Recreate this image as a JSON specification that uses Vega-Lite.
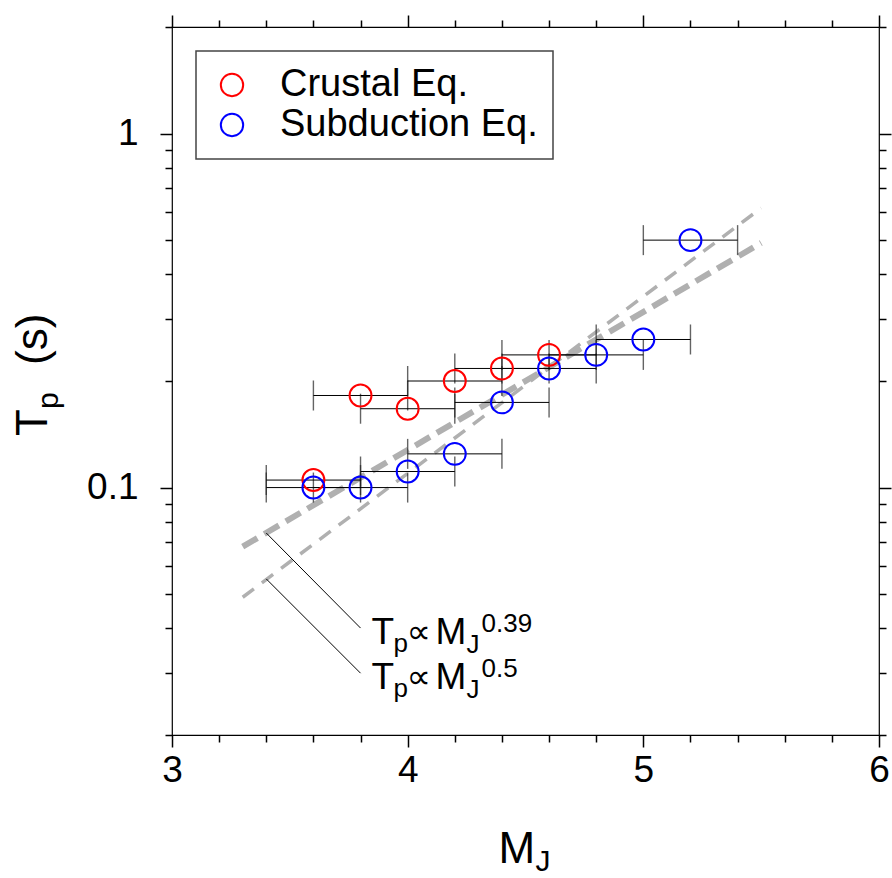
{
  "$schema": "https://vega.github.io/schema/vega-lite/v6.json",
  "width": 707,
  "height": 708,
  "autosize": {"type": "none"},
  "padding": {"left": 172, "top": 27, "right": 13, "bottom": 143},
  "background": "white",
  "config": {
    "view": {"stroke": "black", "strokeWidth": 1.2},
    "font": "Liberation Sans",
    "axis": {
      "domain": false,
      "grid": false,
      "tickColor": "black",
      "tickWidth": 1.5,
      "labelFont": "Liberation Sans",
      "labelFontSize": 37,
      "labelColor": "black",
      "labelFlush": false,
      "labelOverlap": false
    },
    "legend": {"strokeWidth": 1.5},
    "text": {"font": "Liberation Sans", "color": "black", "align": "left", "baseline": "alphabetic"}
  },
  "resolve": {"axis": {"x": "independent", "y": "independent"}},
  "datasets": {
    "pts": [
      {"M": 3.6, "Tp": 0.105, "type": "Crustal Eq.", "dM": 0.2},
      {"M": 3.8, "Tp": 0.182, "type": "Crustal Eq.", "dM": 0.2},
      {"M": 4.0, "Tp": 0.167, "type": "Crustal Eq.", "dM": 0.2},
      {"M": 4.2, "Tp": 0.2, "type": "Crustal Eq.", "dM": 0.2},
      {"M": 4.4, "Tp": 0.217, "type": "Crustal Eq.", "dM": 0.2},
      {"M": 4.6, "Tp": 0.237, "type": "Crustal Eq.", "dM": 0.2},
      {"M": 3.6, "Tp": 0.1, "type": "Subduction Eq.", "dM": 0.2},
      {"M": 3.8, "Tp": 0.1, "type": "Subduction Eq.", "dM": 0.2},
      {"M": 4.0, "Tp": 0.111, "type": "Subduction Eq.", "dM": 0.2},
      {"M": 4.2, "Tp": 0.1245, "type": "Subduction Eq.", "dM": 0.2},
      {"M": 4.4, "Tp": 0.174, "type": "Subduction Eq.", "dM": 0.2},
      {"M": 4.6, "Tp": 0.217, "type": "Subduction Eq.", "dM": 0.2},
      {"M": 4.8, "Tp": 0.237, "type": "Subduction Eq.", "dM": 0.2},
      {"M": 5.0, "Tp": 0.262, "type": "Subduction Eq.", "dM": 0.2},
      {"M": 5.2, "Tp": 0.5, "type": "Subduction Eq.", "dM": 0.2}
    ],
    "fit039": [
      {"M": 3.3, "Tp": 0.0681},
      {"M": 5.5, "Tp": 0.491}
    ],
    "fit050": [
      {"M": 3.3, "Tp": 0.049},
      {"M": 5.5, "Tp": 0.616}
    ],
    "leaders": [
      {"id": "a", "M": 3.4, "Tp": 0.0744},
      {"id": "a", "M": 3.8, "Tp": 0.0401},
      {"id": "b", "M": 3.4, "Tp": 0.0552},
      {"id": "b", "M": 3.8, "Tp": 0.0299}
    ],
    "ann": [
      {"M": 3.8, "Tp": 0.0401, "exp": "0.39"},
      {"M": 3.8, "Tp": 0.0299, "exp": "0.5"}
    ],
    "anchor": [{}]
  },
  "layer": [
    {
      "data": {"name": "fit039"},
      "mark": {"type": "line", "color": "#b0b0b0", "strokeWidth": 6, "strokeDash": [17, 8], "strokeCap": "butt"},
      "encoding": {
        "x": {"field": "M", "type": "quantitative", "scale": {"domain": [3, 6], "nice": false, "zero": false},
          "axis": {"orient": "bottom", "values": [3, 4, 5, 6], "tickSize": 12, "labelPadding": 5, "title": null}},
        "y": {"field": "Tp", "type": "quantitative", "scale": {"type": "log", "domain": [0.02, 2], "nice": false},
          "axis": {"orient": "left", "values": [0.1, 1], "format": "~g", "tickSize": 12, "labelPadding": 22, "title": null}}
      }
    },
    {
      "data": {"name": "fit050"},
      "mark": {"type": "line", "color": "#b0b0b0", "strokeWidth": 3.5, "strokeDash": [14, 10], "strokeCap": "butt"},
      "encoding": {
        "x": {"field": "M", "type": "quantitative", "scale": {"domain": [3, 6], "nice": false, "zero": false},
          "axis": {"orient": "bottom", "values": [3.2, 3.4, 3.6, 3.8, 4.2, 4.4, 4.6, 4.8, 5.2, 5.4, 5.6, 5.8], "tickSize": 7, "labels": false, "title": null}},
        "y": {"field": "Tp", "type": "quantitative", "scale": {"type": "log", "domain": [0.02, 2], "nice": false},
          "axis": {"orient": "left", "values": [0.02, 0.03, 0.04, 0.05, 0.06, 0.07, 0.08, 0.09, 0.2, 0.3, 0.4, 0.5, 0.6, 0.7, 0.8, 0.9, 2], "tickSize": 7, "labels": false, "title": null}}
      }
    },
    {
      "data": {"name": "leaders"},
      "mark": {"type": "line", "color": "black", "strokeWidth": 1},
      "encoding": {
        "x": {"field": "M", "type": "quantitative", "scale": {"domain": [3, 6], "nice": false, "zero": false},
          "axis": {"orient": "top", "values": [3, 4, 5, 6], "tickSize": 12, "labels": false, "title": null}},
        "y": {"field": "Tp", "type": "quantitative", "scale": {"type": "log", "domain": [0.02, 2], "nice": false},
          "axis": {"orient": "right", "values": [0.1, 1], "tickSize": 12, "labels": false, "title": null}},
        "detail": {"field": "id", "type": "nominal"}
      }
    },
    {
      "data": {"name": "pts"},
      "mark": {"type": "errorbar", "ticks": {"size": 30, "thickness": 1.4, "color": "#222222"}, "rule": {"color": "black", "strokeWidth": 1}},
      "encoding": {
        "x": {"field": "M", "type": "quantitative", "scale": {"domain": [3, 6], "nice": false, "zero": false}, "axis": null},
        "xError": {"field": "dM"},
        "y": {"field": "Tp", "type": "quantitative", "scale": {"type": "log", "domain": [0.02, 2], "nice": false}, "axis": null}
      }
    },
    {
      "data": {"name": "pts"},
      "mark": {"type": "point", "filled": false, "size": 480, "strokeWidth": 2, "opacity": 1},
      "encoding": {
        "x": {"field": "M", "type": "quantitative", "scale": {"domain": [3, 6], "nice": false, "zero": false},
          "axis": {"orient": "top", "values": [3.2, 3.4, 3.6, 3.8, 4.2, 4.4, 4.6, 4.8, 5.2, 5.4, 5.6, 5.8], "tickSize": 7, "labels": false, "title": null}},
        "y": {"field": "Tp", "type": "quantitative", "scale": {"type": "log", "domain": [0.02, 2], "nice": false},
          "axis": {"orient": "right", "values": [0.02, 0.03, 0.04, 0.05, 0.06, 0.07, 0.08, 0.09, 0.2, 0.3, 0.4, 0.5, 0.6, 0.7, 0.8, 0.9, 2], "tickSize": 7, "labels": false, "title": null}},
        "color": {
          "field": "type", "type": "nominal",
          "scale": {"domain": ["Crustal Eq.", "Subduction Eq."], "range": ["#ff0000", "#0000ff"]},
          "legend": {
            "title": null, "orient": "none", "legendX": 24, "legendY": 24,
            "strokeColor": "#444444", "fillColor": "white",
            "padding": 15, "rowPadding": 2,
            "labelFont": "Liberation Sans", "labelFontSize": 38, "labelColor": "black", "labelLimit": 0,
            "symbolType": "circle", "symbolSize": 500, "symbolStrokeWidth": 2, "symbolOffset": 2, "labelOffset": 29
          }
        }
      }
    },
    {
      "data": {"name": "ann"},
      "mark": {"type": "text", "fontSize": 37, "dx": 11, "dy": 16},
      "encoding": {
        "x": {"field": "M", "type": "quantitative", "scale": {"domain": [3, 6], "nice": false, "zero": false}, "axis": null},
        "y": {"field": "Tp", "type": "quantitative", "scale": {"type": "log", "domain": [0.02, 2], "nice": false}, "axis": null},
        "text": {"value": "T"}
      }
    },
    {
      "data": {"name": "ann"},
      "mark": {"type": "text", "fontSize": 26, "dx": 33, "dy": 24},
      "encoding": {
        "x": {"field": "M", "type": "quantitative", "scale": {"domain": [3, 6], "nice": false, "zero": false}, "axis": null},
        "y": {"field": "Tp", "type": "quantitative", "scale": {"type": "log", "domain": [0.02, 2], "nice": false}, "axis": null},
        "text": {"value": "p"}
      }
    },
    {
      "data": {"name": "ann"},
      "mark": {"type": "text", "fontSize": 34, "dx": 46, "dy": 15, "font": "DejaVu Sans"},
      "encoding": {
        "x": {"field": "M", "type": "quantitative", "scale": {"domain": [3, 6], "nice": false, "zero": false}, "axis": null},
        "y": {"field": "Tp", "type": "quantitative", "scale": {"type": "log", "domain": [0.02, 2], "nice": false}, "axis": null},
        "text": {"value": "∝"}
      }
    },
    {
      "data": {"name": "ann"},
      "mark": {"type": "text", "fontSize": 37, "dx": 75, "dy": 16},
      "encoding": {
        "x": {"field": "M", "type": "quantitative", "scale": {"domain": [3, 6], "nice": false, "zero": false}, "axis": null},
        "y": {"field": "Tp", "type": "quantitative", "scale": {"type": "log", "domain": [0.02, 2], "nice": false}, "axis": null},
        "text": {"value": "M"}
      }
    },
    {
      "data": {"name": "ann"},
      "mark": {"type": "text", "fontSize": 26, "dx": 106, "dy": 25},
      "encoding": {
        "x": {"field": "M", "type": "quantitative", "scale": {"domain": [3, 6], "nice": false, "zero": false}, "axis": null},
        "y": {"field": "Tp", "type": "quantitative", "scale": {"type": "log", "domain": [0.02, 2], "nice": false}, "axis": null},
        "text": {"value": "J"}
      }
    },
    {
      "data": {"name": "ann"},
      "mark": {"type": "text", "fontSize": 26, "dx": 121, "dy": 4},
      "encoding": {
        "x": {"field": "M", "type": "quantitative", "scale": {"domain": [3, 6], "nice": false, "zero": false}, "axis": null},
        "y": {"field": "Tp", "type": "quantitative", "scale": {"type": "log", "domain": [0.02, 2], "nice": false}, "axis": null},
        "text": {"field": "exp"}
      }
    },
    {
      "data": {"name": "anchor"},
      "mark": {"type": "text", "fontSize": 44, "dx": -27, "dy": 128},
      "encoding": {
        "x": {"datum": 4.5, "type": "quantitative", "scale": {"domain": [3, 6], "nice": false, "zero": false}, "axis": null},
        "y": {"datum": 0.02, "type": "quantitative", "scale": {"type": "log", "domain": [0.02, 2], "nice": false}, "axis": null},
        "text": {"value": "M"}
      }
    },
    {
      "data": {"name": "anchor"},
      "mark": {"type": "text", "fontSize": 30, "dx": 10, "dy": 136},
      "encoding": {
        "x": {"datum": 4.5, "type": "quantitative", "scale": {"domain": [3, 6], "nice": false, "zero": false}, "axis": null},
        "y": {"datum": 0.02, "type": "quantitative", "scale": {"type": "log", "domain": [0.02, 2], "nice": false}, "axis": null},
        "text": {"value": "J"}
      }
    },
    {
      "data": {"name": "anchor"},
      "mark": {"type": "text", "fontSize": 44, "angle": 270, "dx": -55, "dy": -125},
      "encoding": {
        "x": {"datum": 3, "type": "quantitative", "scale": {"domain": [3, 6], "nice": false, "zero": false}, "axis": null},
        "y": {"datum": 0.2, "type": "quantitative", "scale": {"type": "log", "domain": [0.02, 2], "nice": false}, "axis": null},
        "text": {"value": "T"}
      }
    },
    {
      "data": {"name": "anchor"},
      "mark": {"type": "text", "fontSize": 30, "angle": 270, "dx": -28, "dy": -114},
      "encoding": {
        "x": {"datum": 3, "type": "quantitative", "scale": {"domain": [3, 6], "nice": false, "zero": false}, "axis": null},
        "y": {"datum": 0.2, "type": "quantitative", "scale": {"type": "log", "domain": [0.02, 2], "nice": false}, "axis": null},
        "text": {"value": "p"}
      }
    },
    {
      "data": {"name": "anchor"},
      "mark": {"type": "text", "fontSize": 44, "angle": 270, "dx": 16, "dy": -125},
      "encoding": {
        "x": {"datum": 3, "type": "quantitative", "scale": {"domain": [3, 6], "nice": false, "zero": false}, "axis": null},
        "y": {"datum": 0.2, "type": "quantitative", "scale": {"type": "log", "domain": [0.02, 2], "nice": false}, "axis": null},
        "text": {"value": "(s)"}
      }
    }
  ]
}
